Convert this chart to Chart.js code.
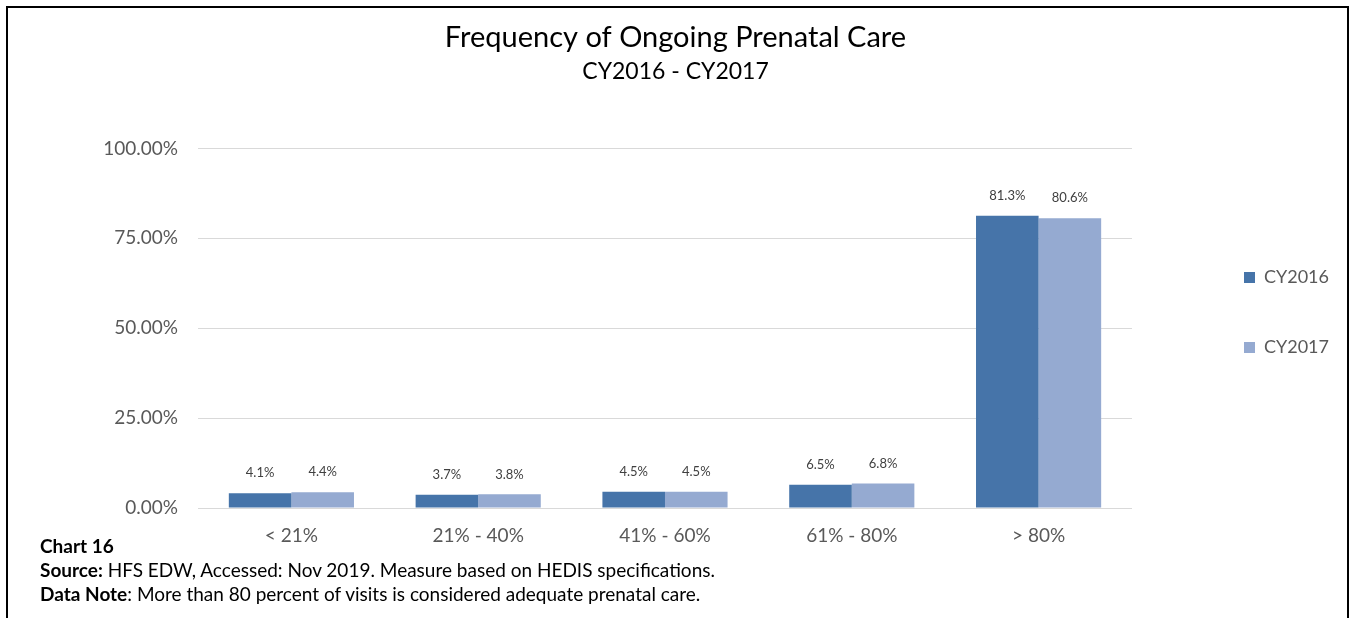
<!DOCTYPE html>
<html>
<head>
<meta charset="utf-8">
<script src="https://cdn.jsdelivr.net/npm/chart.js@4.4.0/dist/chart.umd.min.js"></script>
<style>
    body { margin: 0; background: #fff; }
    #frame { position: absolute; left: 6px; top: 6px; width: 1339px; height: 640px; border: 2px solid #000; border-bottom: none; }
    #chartBox { position: absolute; left: 0; top: 0; width: 1353px; height: 618px; }
    .note { position: absolute; left: 40px; font-family: Lato, sans-serif; font-size: 19px; line-height: 23px; color: #000; white-space: nowrap; }
</style>
</head>
<body>
<div id="frame"></div>
<div id="chartBox"><canvas id="prenatalChart" width="1353" height="618"></canvas></div>
<div class="note" style="top:534px;"><b>Chart 16</b></div>
<div class="note" style="top:558px;"><b>Source:</b> HFS EDW, Accessed: Nov 2019. Measure based on HEDIS specifications.</div>
<div class="note" style="top:582px;"><b>Data Note</b>: More than 80 percent of visits is considered adequate prenatal care.</div>
<script>
// chart data
const categories = ['< 21%', '21% - 40%', '41% - 60%', '61% - 80%', '> 80%'];
const cy2016 = [4.1, 3.7, 4.5, 6.5, 81.3];
const cy2017 = [4.4, 3.8, 4.5, 6.8, 80.6];

// value labels above each bar
const barLabels = {
    id: 'barLabels',
    afterDatasetsDraw(chart) {
        const ctx = chart.ctx;
        ctx.save();
        ctx.font = '13px Lato, sans-serif';
        ctx.fillStyle = '#404040';
        ctx.textAlign = 'center';
        ctx.textBaseline = 'middle';
        chart.data.datasets.forEach((ds, i) => {
            chart.getDatasetMeta(i).data.forEach((bar, j) => {
                ctx.fillText(ds.data[j].toFixed(1) + '%', bar.x, bar.y - 20);
            });
        });
        ctx.restore();
    }
};

const ctx = document.getElementById('prenatalChart').getContext('2d');
const prenatalChart = new Chart(ctx, {
    type: 'bar',
    data: {
        labels: categories,
        datasets: [{
            label: 'CY2016',
            data: cy2016,
            backgroundColor: '#4674A9',
            yAxisID: 'y'
        }, {
            label: 'CY2017',
            data: cy2017,
            backgroundColor: '#95AAD1',
            yAxisID: 'y'
        }]
    },
    options: {
        responsive: false,
        animation: false,
        layout: { padding: { left: 12, right: 14, top: 7, bottom: 0 } },
        datasets: { bar: { categoryPercentage: 0.67, barPercentage: 1.0 } },
        plugins: {
            title: {
                display: true,
                text: 'Frequency of Ongoing Prenatal Care',
                font: { family: 'Lato', size: 29, weight: 'normal' },
                color: '#000',
                padding: { top: 13, bottom: 3 }
            },
            subtitle: {
                display: true,
                text: 'CY2016 - CY2017',
                font: { family: 'Lato', size: 23, weight: 'normal' },
                color: '#000',
                padding: { top: 0, bottom: 63 }
            },
            legend: {
                position: 'right',
                labels: {
                    font: { family: 'Lato', size: 18 },
                    color: '#595959',
                    boxWidth: 11,
                    boxHeight: 11,
                    padding: 52
                }
            },
            tooltip: { enabled: false }
        },
        scales: {
            x: {
                grid: { display: false, drawTicks: false },
                border: { color: '#D9D9D9', width: 1 },
                ticks: { font: { family: 'Lato', size: 19 }, color: '#595959', padding: 16 },
                afterFit: s => { s.height = 110; }
            },
            y: {
                min: 0,
                max: 100,
                grid: { color: '#D9D9D9', drawTicks: false },
                border: { display: false },
                ticks: {
                    stepSize: 25,
                    padding: 20,
                    font: { family: 'Lato', size: 19 },
                    color: '#595959',
                    callback: v => v.toFixed(2) + '%'
                },
                afterFit: s => { s.width = 186; }
            },
            // empty right-hand spacer between plot and legend
            gap: {
                type: 'linear',
                position: 'right',
                grid: { display: false, drawTicks: false },
                border: { display: false },
                ticks: { display: false },
                afterFit: s => { s.width = 60; }
            }
        }
    },
    plugins: [barLabels]
});
</script>
</body>
</html>
